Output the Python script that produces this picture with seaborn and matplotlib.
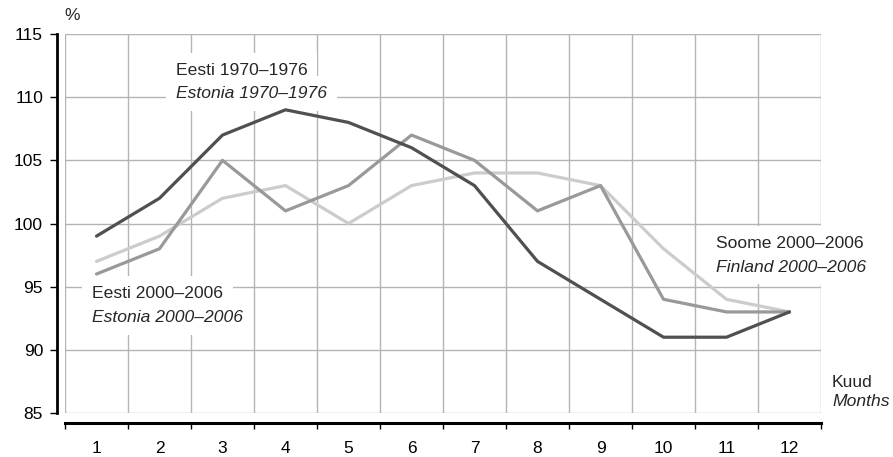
import pandas as pd
import numpy as np
import matplotlib.pyplot as plt
import seaborn as sns

months = list(range(1, 13))
eesti_1970 = [99, 102, 107, 109, 108, 106, 103, 97, 94, 91, 91, 93]
eesti_2000 = [96, 98, 105, 101, 103, 107, 105, 101, 103, 94, 93, 93]
soome_2000 = [97, 99, 102, 103, 100, 103, 104, 104, 103, 98, 94, 93]

series_names = ["Soome 2000–2006", "Eesti 2000–2006", "Eesti 1970–1976"]
series_vals = [soome_2000, eesti_2000, eesti_1970]
colors = {"Soome 2000–2006": "#cccccc", "Eesti 2000–2006": "#999999", "Eesti 1970–1976": "#505050"}

df = pd.concat(
    [pd.DataFrame({"kuu": months, "pct": v, "seeria": n}) for n, v in zip(series_names, series_vals)],
    ignore_index=True,
)

sns.set_theme(style="white")
plt.rcParams["font.family"] = ["Liberation Sans", "DejaVu Sans"]

fig = plt.figure(figsize=(8.93, 4.57), dpi=100)
ax = fig.add_axes([65 / 893, 44 / 457, 756 / 893, 379 / 457])

sns.lineplot(data=df, x="kuu", y="pct", hue="seeria", palette=colors, hue_order=series_names,
             linewidth=2.3, legend=False, ax=ax, zorder=3)

ax.set_xlim(0.5, 12.5)
ax.set_ylim(85, 115)
ax.set_xticks(np.arange(0.5, 13, 1))
ax.set_xticklabels([])
ax.set_xticks(months, minor=True)
ax.set_xticklabels([str(m) for m in months], minor=True)
ax.set_yticks(range(85, 116, 5))
ax.grid(True, which="major", color="#b4b4b4", linewidth=1.0)
ax.set_axisbelow(True)

for s in ["top", "right"]:
    ax.spines[s].set_visible(False)
ax.spines["left"].set_position(("outward", 5.8))
ax.spines["left"].set_linewidth(2.0)
ax.spines["left"].set_color("black")
ax.spines["bottom"].set_position(("outward", 7))
ax.spines["bottom"].set_linewidth(2.2)
ax.spines["bottom"].set_color("black")

ax.tick_params(axis="y", which="major", left=True, length=5, width=1, color="black",
               labelsize=12.5, pad=5, labelcolor="black")
ax.tick_params(axis="x", which="major", bottom=True, length=4, width=1, color="black")
ax.tick_params(axis="x", which="minor", bottom=True, length=0, labelsize=12.5, pad=13,
               labelcolor="black")
ax.set_xlabel("")
ax.set_ylabel("")

fs = 12.6
box = dict(facecolor="white", edgecolor="none", pad=7)
ax.text(2.26, 111.75, "Eesti 1970–1976", fontsize=fs, ha="left", va="baseline", bbox=box, zorder=2)
ax.text(2.26, 109.95, "Estonia 1970–1976", fontsize=fs, style="italic", ha="left", va="baseline",
        bbox=box, zorder=2)
ax.text(0.93, 94.1, "Eesti 2000–2006", fontsize=fs, ha="left", va="baseline", bbox=box, zorder=2)
ax.text(0.93, 92.2, "Estonia 2000–2006", fontsize=fs, style="italic", ha="left", va="baseline",
        bbox=box, zorder=2)
ax.text(10.83, 98.1, "Soome 2000–2006", fontsize=fs, ha="left", va="baseline", bbox=box, zorder=2,
        clip_on=False)
ax.text(10.83, 96.2, "Finland 2000–2006", fontsize=fs, style="italic", ha="left", va="baseline",
        bbox=box, zorder=2, clip_on=False)

fig.text(64 / 893, 1 - 16 / 457, "%", fontsize=12.5, ha="left", va="center")
fig.text(832 / 893, 1 - 387 / 457, "Kuud", fontsize=fs, ha="left", va="baseline")
fig.text(832 / 893, 1 - 406 / 457, "Months", fontsize=fs, style="italic", ha="left", va="baseline")

fig.savefig("out.png", dpi=100)
